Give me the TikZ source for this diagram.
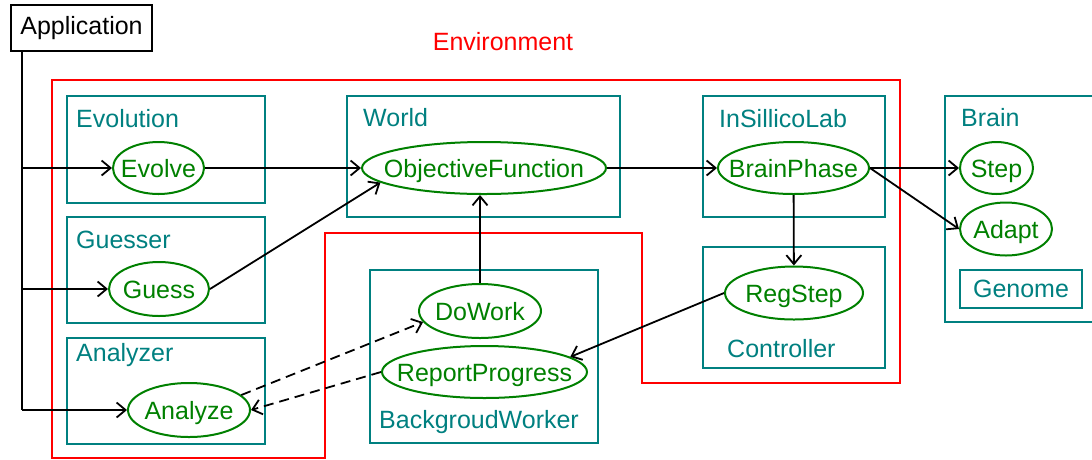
\documentclass[tikz,border=0pt]{standalone}
\usepackage{fontspec}
\setmainfont{Liberation Sans}
\usetikzlibrary{shapes.geometric,arrows.meta}
\definecolor{tealc}{RGB}{0,128,128}
\definecolor{greenc}{RGB}{0,128,0}
\definecolor{redc}{RGB}{255,0,0}
\newcommand{\mtxt}[1]{\raisebox{-9pt}[0pt][0pt]{\makebox[0pt]{#1}}}
\tikzset{
  cls/.style={draw=tealc,line width=2pt},
  clslabel/.style={text=tealc,anchor=base west,inner sep=0pt},
  meth/.style={ellipse,draw=greenc,line width=2pt,text=greenc,inner sep=0pt},
  arr/.style={line width=1.8pt,-{Straight Barb[length=9pt,width=15pt,line width=1.8pt]}},
  plain/.style={line width=1.8pt},
  dsh/.style={arr,dash pattern=on 10pt off 6pt},
  envline/.style={draw=redc,line width=1.6pt}
}
\begin{document}
\begin{tikzpicture}[x=1pt,y=-1pt,font=\fontsize{25}{30}\selectfont]
\useasboundingbox (0,0) rectangle (1092,459);
% environment outline
\draw[envline] (52,80) -- (900,80) -- (900,383) -- (642,383) -- (642,233) -- (325,233) -- (325,458) -- (52,458) -- cycle;
\node[text=redc] (envlabel) at (503,42) {Environment};
% application
\node[draw=black,line width=1.8pt,minimum width=141pt,minimum height=46pt,inner sep=0pt] (app) at (81.5,28) {Application};
% class boxes
\draw[cls] (67,96) rectangle (265,203);
\node[clslabel] (lEvolution) at (76,127) {Evolution};
\draw[cls] (67,217) rectangle (265,323);
\node[clslabel] (lGuesser) at (76,248) {Guesser};
\draw[cls] (67,338) rectangle (265,444);
\node[clslabel] (lAnalyzer) at (76,361) {Analyzer};
\draw[cls] (347,96) rectangle (620,217);
\node[clslabel] (lWorld) at (363,126) {World};
\draw[cls] (703,96) rectangle (885,217);
\node[clslabel] (lLab) at (719,127) {InSillicoLab};
\draw[cls] (703,247) rectangle (885,368);
\node[clslabel] (lController) at (727,357) {Controller};
\draw[cls] (370,270) rectangle (598,443);
\node[clslabel] (lWorker) at (379,428) {BackgroudWorker};
\draw[cls] (945,96) rectangle (1095,322);
\node[clslabel] (lBrain) at (961,126) {Brain};
\node[cls,text=tealc,minimum width=122pt,minimum height=38pt,inner sep=0pt] (genome) at (1021,289) {Genome};
% methods
\node[meth,minimum width=91pt,minimum height=52pt] (evolve) at (158.5,168) {\mtxt{Evolve}};
\node[meth,minimum width=100pt,minimum height=54pt] (guess) at (159,289) {\mtxt{Guess}};
\node[meth,minimum width=122pt,minimum height=54pt] (analyze) at (189,410) {\mtxt{Analyze}};
\node[meth,minimum width=244pt,minimum height=52pt] (of) at (484,168) {\mtxt{ObjectiveFunction}};
\node[meth,minimum width=122pt,minimum height=54pt] (dowork) at (480,311) {\mtxt{DoWork}};
\node[meth,minimum width=205pt,minimum height=52pt] (rp) at (484.5,372) {\mtxt{ReportProgress}};
\node[meth,minimum width=151pt,minimum height=52pt] (bp) at (793.5,168) {\mtxt{BrainPhase}};
\node[meth,minimum width=138pt,minimum height=53pt] (regstep) at (794,293) {\mtxt{RegStep}};
\node[meth,minimum width=73pt,minimum height=52pt] (step) at (996.5,168) {\mtxt{Step}};
\node[meth,minimum width=92pt,minimum height=53pt] (adapt) at (1006,229) {\mtxt{Adapt}};
% connectors
\coordinate (tk) at (22,410);
\draw[plain] (app.south -| tk) -- (tk);
\draw[arr] (tk |- evolve) -- (evolve);
\draw[arr] (tk |- guess) -- (guess);
\draw[arr] (tk) -- (analyze);
\draw[arr] (evolve) -- (of);
\draw[arr] (guess.east) -- (of.188);
\draw[arr] (dowork.north) -- (dowork.north |- of.south);
\draw[arr] (of) -- (bp);
\draw[arr] (bp.east) -- (step);
\draw[arr] (bp.east) -- (adapt.west);
\draw[arr] (bp) -- (regstep);
\draw[arr] (regstep.west) -- (rp.10);
\draw[dsh] (analyze.16) -- (dowork.191);
\draw[dsh] (rp.west) -- (analyze.east);
\end{tikzpicture}
\end{document}
